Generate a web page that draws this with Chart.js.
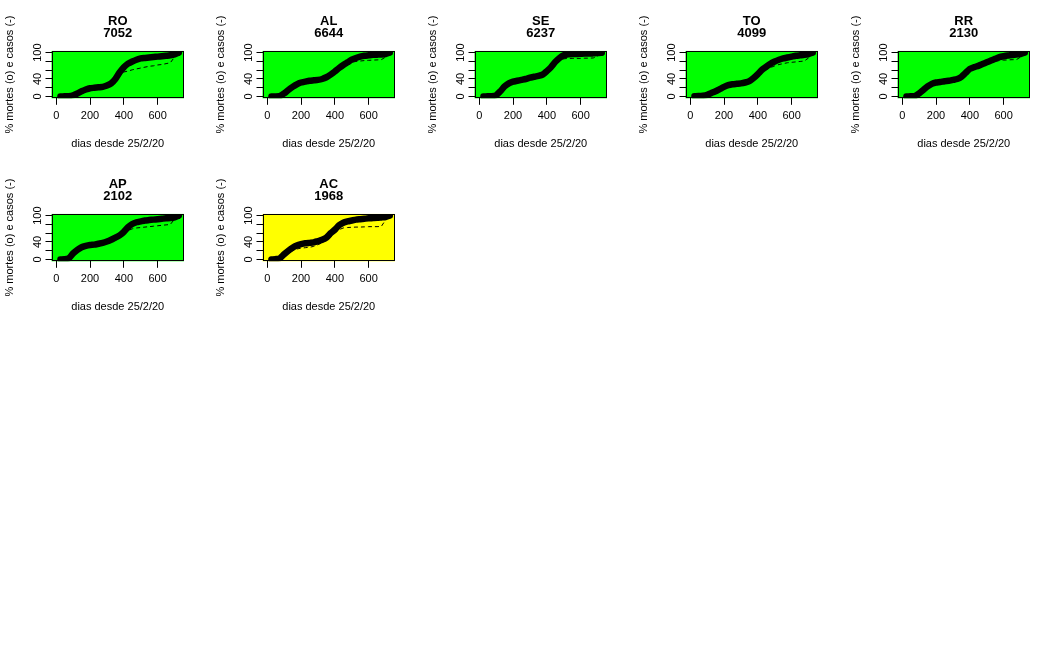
<!DOCTYPE html>
<html>
<head>
<meta charset="utf-8">
<script src="https://cdn.jsdelivr.net/npm/chart.js@4.4.1/dist/chart.umd.min.js"></script>
<style>
  body { margin: 0; background: #fff; }
  #painel { position: relative; width: 1057px; height: 651px; }
  #painel canvas { position: absolute; }
</style>
</head>
<body>
<div id="painel"></div>
<script>
// dados (% acumulado de mortes e de casos)
const dias = [0, 25, 50, 75, 100, 125, 150, 175, 200, 225, 250, 275, 300, 325, 350,
  375, 400, 425, 450, 475, 500, 525, 550, 575, 600, 625, 650, 675, 700, 725];

const estados = ['RO', 'AL', 'SE', 'TO', 'RR', 'AP', 'AC'];
const totais = [7052, 6644, 6237, 4099, 2130, 2102, 1968];
const destaque = 'AC';

const obitosRO = [null, 0, 0.5, 1, 3, 7, 12, 16, 19, 20, 21, 22, 25, 30, 40, 55, 67, 75, 80, 84, 87, 88, 89, 90, 91, 92, 93, 94, 96, 100];
const casosRO  = [null, 0, 0.3, 0.8, 2.5, 6, 11, 15, 18, 19, 20, 21, 23, 28, 37, 50, 56, 58, 61, 63, 65, 67, 69, 70, 72, 73, 75, 77, 90, 100];
const obitosAL = [null, 0, 0, 1, 7, 15, 22, 28, 32, 34, 36, 37, 38, 40, 44, 50, 57, 65, 72, 78, 84, 88, 91, 93, 94, 95, 95.5, 96, 97, 100];
const casosAL  = [null, 0, 0, 0.8, 6, 13, 20, 26, 30, 32, 34, 35, 36, 38, 42, 48, 55, 62, 69, 74, 78, 80, 81, 82, 82.5, 83, 83.5, 84, 90, 100];
const obitosSE = [null, 0, 0.5, 1, 3, 12, 23, 30, 34, 36, 38, 40, 43, 45, 47, 50, 58, 67, 79, 88, 94, 96.5, 97, 97, 97.5, 98, 98, 98.5, 99, 100];
const casosSE  = [null, 0, 0.3, 0.8, 2, 9, 18, 25, 29, 31, 33, 35, 38, 41, 43, 46, 53, 62, 74, 82, 86, 87, 87, 87, 87, 87.5, 87.5, 88, 92, 100];
const obitosTO = [null, 0.5, 1, 2, 4, 8, 12, 17, 22, 26, 28, 29, 30, 32, 35, 42, 51, 61, 68, 75, 80, 84, 87, 89, 91, 93, 94, 95, 97, 100];
const casosTO  = [null, 0.3, 0.8, 1.5, 3, 7, 11, 15, 20, 24, 26, 27, 28, 30, 33, 40, 48, 56, 61, 66, 70, 73, 75, 77, 78, 79, 80, 81, 88, 100];
const obitosRR = [null, 0, 0.5, 1, 7, 15, 23, 29, 32, 33, 35, 36, 38, 40, 45, 54, 63, 67, 70, 74, 78, 82, 86, 90, 92, 93.5, 94.5, 96, 97, 100];
const casosRR  = [null, 0, 0.3, 0.8, 5, 12, 20, 26, 29, 31, 33, 34, 36, 38, 42, 50, 58, 63, 66, 69, 73, 77, 80, 82, 83, 83.5, 84, 84, 90, 100];
const obitosAP = [null, 0, 0.5, 3, 14, 22, 28, 31, 33, 34, 36, 38, 41, 45, 50, 55, 63, 74, 81, 85, 87, 89, 90, 91, 92, 93, 94, 94.5, 96, 100];
const casosAP  = [null, 0, 0.3, 2, 11, 19, 25, 28, 30, 31, 33, 35, 38, 42, 46, 51, 58, 66, 70, 72, 73, 74, 75, 76, 77, 78, 79, 80, 92, 100];
const obitosAC = [null, 0, 1, 3, 12, 20, 27, 32, 35, 37, 38, 39, 42, 45, 50, 60, 68, 78, 84, 87, 89, 91, 92, 93, 94, 94.5, 95, 96, 97, 100];
const casosAC  = [null, 0, 0.5, 2, 8, 14, 20, 24, 26, 27, 28, 30, 34, 38, 44, 52, 60, 68, 72, 73, 73.5, 74, 74, 74.5, 75, 75, 75, 75.5, 90, 100];

const obitos = [obitosRO, obitosAL, obitosSE, obitosTO, obitosRR, obitosAP, obitosAC];
const casos = [casosRO, casosAL, casosSE, casosTO, casosRR, casosAP, casosAC];

const xTicks = [0, 200, 400, 600];
const yTicks = [0, 20, 40, 60, 80, 100];
const yRotulos = [0, 40, 100];

// estilo
const fonte = "'Liberation Sans', Arial, sans-serif";
const verde = '#00ff00';
const amarelo = '#ffff00';

// fundo colorido + caixa em volta da area do grafico
const caixa = {
  id: 'caixa',
  beforeDraw(chart, args, opts) {
    const a = chart.chartArea;
    const ctx = chart.ctx;
    ctx.save();
    ctx.fillStyle = opts.cor;
    ctx.fillRect(a.left, a.top, a.right - a.left, a.bottom - a.top);
    ctx.restore();
  },
  afterDraw(chart) {
    const a = chart.chartArea;
    const ctx = chart.ctx;
    const l = Math.round(a.left) + 0.5, t = Math.round(a.top) + 0.5;
    const r = Math.round(a.right) - 0.5, b = Math.round(a.bottom) - 0.5;
    ctx.save();
    ctx.strokeStyle = '#000';
    ctx.lineWidth = 1;
    ctx.strokeRect(l, t, r - l, b - t);
    ctx.restore();
  }
};

const painel = document.getElementById('painel');

estados.forEach((uf, i) => {
  const col = i % 5;
  const lin = Math.floor(i / 5);
  const cv = document.createElement('canvas');
  cv.width = 211;
  cv.height = 163;
  cv.style.width = '211px';
  cv.style.height = '163px';
  cv.style.left = Math.round(col * 211.4) + 'px';
  cv.style.top = Math.round(lin * 162.75) + 'px';
  painel.appendChild(cv);

  const pontos = arr => dias.map((d, k) => ({ x: d, y: arr[k] }));

  new Chart(cv, {
    type: 'line',
    data: {
      datasets: [
        {
          label: 'mortes',
          data: pontos(obitos[i]),
          borderColor: '#000',
          borderWidth: 6.5,
          borderCapStyle: 'round',
          borderJoinStyle: 'round',
          pointRadius: 0,
          tension: 0.2
        },
        {
          label: 'casos',
          data: pontos(casos[i]),
          borderColor: '#000',
          borderWidth: 1,
          borderDash: [4, 3],
          pointRadius: 0
        }
      ]
    },
    options: {
      responsive: false,
      animation: false,
      devicePixelRatio: 1,
      layout: { padding: { left: 0, right: 27, top: 0, bottom: 0 } },
      plugins: {
        legend: { display: false },
        tooltip: { enabled: false },
        caixa: { cor: uf === destaque ? amarelo : verde },
        title: {
          display: true,
          fullSize: false,
          text: [uf, String(totais[i])],
          color: '#000',
          font: { family: fonte, size: 13, weight: 'bold', lineHeight: 0.92 },
          padding: { top: 15.7, bottom: 11.3 }
        }
      },
      scales: {
        x: {
          type: 'linear',
          min: -28,
          max: 756,
          afterFit: s => { s.height = 64.7; },
          afterBuildTicks: s => { s.ticks = xTicks.map(v => ({ value: v })); },
          grid: { drawOnChartArea: false, drawTicks: true, tickLength: 6.5, tickColor: '#000', color: '#000' },
          border: { display: false },
          ticks: { color: '#000', font: { family: fonte, size: 11 }, padding: 5, maxRotation: 0, autoSkip: false },
          title: {
            display: true,
            text: 'dias desde 25/2/20',
            color: '#000',
            font: { family: fonte, size: 11 },
            padding: { top: 0, bottom: 12.6 }
          }
        },
        y: {
          min: -4,
          max: 104,
          afterFit: s => { s.width = 51.5; },
          afterBuildTicks: s => { s.ticks = yTicks.map(v => ({ value: v })); },
          grid: { drawOnChartArea: false, drawTicks: true, tickLength: 6, tickColor: '#000', color: '#000' },
          border: { display: false },
          ticks: {
            color: '#000',
            font: { family: fonte, size: 11 },
            minRotation: 90,
            maxRotation: 90,
            crossAlign: 'center',
            padding: -1.2,
            autoSkip: false,
            callback: v => yRotulos.includes(v) ? String(v) : ''
          },
          title: {
            display: true,
            text: '% mortes (o) e casos (-)',
            color: '#000',
            font: { family: fonte, size: 11 },
            padding: { top: 2.9, bottom: 0 }
          }
        }
      }
    },
    plugins: [caixa]
  });
});
</script>
</body>
</html>
